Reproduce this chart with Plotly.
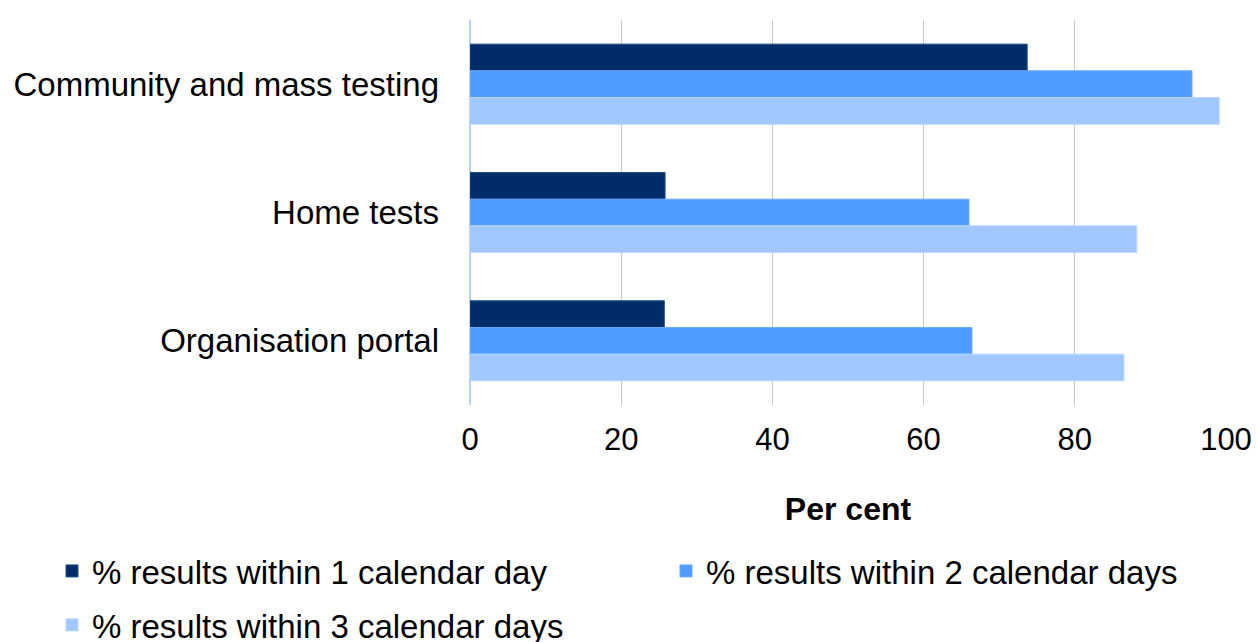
import plotly.graph_objects as go

categories = ["Community and mass testing", "Home tests", "Organisation portal"]
series_names = [
    "% results within 1 calendar day",
    "% results within 2 calendar days",
    "% results within 3 calendar days",
]
within_1_day = [73.7, 25.8, 25.7]
within_2_days = [95.5, 66.0, 66.4]
within_3_days = [99.1, 88.2, 86.5]
x_ticks = [0, 20, 40, 60, 80, 100]

colors = ["#002D69", "#4F9BFF", "#A0C7FF"]
line_colors = ["#1E4A85", "#6AABFF", "#B9D7FF"]
legend_ids = ["legend", "legend2", "legend"]

W, H = 1256, 642

fig = go.Figure()
for i, (name, vals, c, lc, lg) in enumerate(zip(series_names, [within_1_day, within_2_days, within_3_days], colors, line_colors, legend_ids)):
    fig.add_trace(go.Bar(
        y=categories, x=vals, name=name, orientation="h",
        marker=dict(color=c, line=dict(color=lc, width=1)),
        legend=lg, legendgroup=f"g{i}",
    ))

font_family = "Liberation Sans, Arial, sans-serif"
legend_font = dict(size=33, family=font_family, color="black")
fig.update_layout(
    width=W, height=H,
    paper_bgcolor="white", plot_bgcolor="white",
    margin=dict(l=470, r=30, t=20, b=237, autoexpand=False),
    barmode="group", bargap=0.376, bargroupgap=0,
    font=dict(family=font_family, size=33, color="black"),
    showlegend=True,
    legend=dict(
        orientation="v", xref="container", yref="container",
        x=52 / W, y=1 - 543 / H, xanchor="left", yanchor="top",
        font=legend_font, tracegroupgap=8, borderwidth=0,
    ),
    legend2=dict(
        orientation="v", xref="container", yref="container",
        x=666 / W, y=1 - 543 / H, xanchor="left", yanchor="top",
        font=legend_font, tracegroupgap=8, borderwidth=0,
    ),
    xaxis=dict(
        range=[0, 100], tickvals=x_ticks, showgrid=True, gridcolor="#C8C8C8", gridwidth=1.3,
        zeroline=True, zerolinecolor="#B5D3FF", zerolinewidth=1.5,
        showline=False, ticks="", ticklabelstandoff=13,
        tickfont=dict(size=31),
        title=dict(text="<b>Per cent</b>", font=dict(size=32), standoff=41),
    ),
    yaxis=dict(
        autorange="reversed", showgrid=False, zeroline=False, showline=False,
        ticks="", ticklabelstandoff=30, tickfont=dict(size=33),
    ),
)

fig.write_html(
    "out.html",
    config={"displayModeBar": False},
    post_script="document.body.style.margin='0';document.body.style.overflow='hidden';",
)
